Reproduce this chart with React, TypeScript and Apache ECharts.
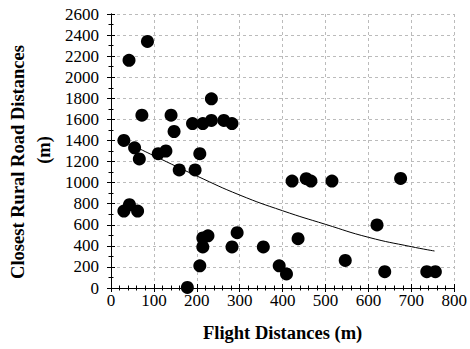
import React, { useEffect, useRef } from "react";
import * as echarts from "echarts";

const flightDistances = [30, 42, 85, 72, 140, 147, 55, 66, 30, 43, 62, 110, 128, 159, 196, 190, 214, 234, 234, 263, 282, 207, 214, 226, 214, 207, 178, 294, 282, 355, 392, 409, 422, 436, 455, 466, 515, 546, 620, 638, 675, 736, 756];
const roadDistances = [1400, 2160, 2340, 1640, 1640, 1485, 1330, 1225, 730, 790, 730, 1275, 1300, 1120, 1120, 1560, 1560, 1795, 1590, 1590, 1560, 1275, 475, 495, 390, 210, 5, 525, 390, 390, 210, 133, 1015, 468, 1037, 1015, 1015, 262, 598, 155, 1040, 155, 155];

const fitX = [62, 100, 200, 300, 400, 500, 600, 700, 754];
const fitY = [1330, 1255, 1063, 882, 733, 604, 481, 392, 351];

const xTicks = [0, 100, 200, 300, 400, 500, 600, 700, 800];
const yTicks = [0, 200, 400, 600, 800, 1000, 1200, 1400, 1600, 1800, 2000, 2200, 2400, 2600];

export default function App() {
  const ref = useRef<HTMLDivElement>(null);
  useEffect(() => {
    if (!ref.current) return;
    const chart = echarts.init(ref.current, undefined, { renderer: "svg" });
    const font = "Liberation Serif";
    const axisCommon = {
      axisLine: { show: true, lineStyle: { color: "#000", width: 1 } },
      axisTick: { show: true, inside: true, length: 4, lineStyle: { color: "#000" } },
    };
    const fmt = (v: number) => String(v);
    const labelStyle = { color: "#000", fontFamily: "Times New Roman, Liberation Serif, serif", fontSize: 17, fontWeight: "normal" };
    chart.setOption({
      animation: false,
      backgroundColor: "#fff",
      textStyle: { fontFamily: font },
      grid: { left: 111, top: 14, width: 347, height: 274, containLabel: false },
      xAxis: [
        {
          type: "value",
          min: xTicks[0],
          max: xTicks[xTicks.length - 1],
          interval: 100,
          position: "bottom",
          ...axisCommon,
          minorTick: { show: true, splitNumber: 5, length: 2.5, lineStyle: { color: "#000" } },
          axisLabel: { ...labelStyle, margin: 4, formatter: fmt },
          splitLine: { show: true, lineStyle: { color: "#bbb", type: [3, 3], width: 1 } },
          name: "Flight Distances (m)",
          nameLocation: "middle",
          nameGap: 35,
          nameTextStyle: { color: "#000", fontFamily: font, fontSize: 18.5, fontWeight: "bold" },
        },
        {
          type: "value",
          min: xTicks[0],
          max: xTicks[xTicks.length - 1],
          interval: 100,
          position: "top",
          ...axisCommon,
          minorTick: { show: true, splitNumber: 5, length: 2.5, lineStyle: { color: "#000" } },
          axisLabel: { show: false },
          splitLine: { show: false },
        },
      ],
      yAxis: [
        {
          type: "value",
          min: yTicks[0],
          max: yTicks[yTicks.length - 1],
          interval: 200,
          position: "left",
          ...axisCommon,
          minorTick: { show: true, splitNumber: 2, length: 2.5, lineStyle: { color: "#000" } },
          axisLabel: { ...labelStyle, margin: 12, formatter: fmt },
          splitLine: { show: true, lineStyle: { color: "#bbb", type: [3, 3], width: 1 } },
        },
        {
          type: "value",
          min: yTicks[0],
          max: yTicks[yTicks.length - 1],
          interval: 200,
          position: "right",
          ...axisCommon,
          minorTick: { show: true, splitNumber: 2, length: 2.5, lineStyle: { color: "#000" } },
          axisLabel: { show: false },
          splitLine: { show: false },
        },
      ],
      graphic: [
        {
          type: "text",
          x: 18,
          y: 162,
          rotation: Math.PI / 2,
          style: {
            text: "Closest Rural Road Distances",
            fill: "#000",
            font: `bold 18.5px "${font}"`,
            align: "center",
            verticalAlign: "middle",
          },
        },
        {
          type: "text",
          x: 44,
          y: 150,
          rotation: Math.PI / 2,
          style: {
            text: "(m)",
            fill: "#000",
            font: `bold 18.5px "${font}"`,
            align: "center",
            verticalAlign: "middle",
          },
        },
      ],
      series: [
        {
          type: "scatter",
          symbol: "circle",
          symbolSize: 13,
          itemStyle: { color: "#000", opacity: 1 },
          data: flightDistances.map((x, i) => [x, roadDistances[i]]),
          z: 3,
        },
        {
          type: "line",
          smooth: true,
          showSymbol: false,
          symbol: "none",
          lineStyle: { color: "#000", width: 1 },
          data: fitX.map((x, i) => [x, fitY[i]]),
          z: 2,
        },
      ],
    });
    return () => chart.dispose();
  }, []);
  return (
    <div
      ref={ref}
      style={{ position: "fixed", left: 0, top: 0, width: 470, height: 349 }}
    />
  );
}
